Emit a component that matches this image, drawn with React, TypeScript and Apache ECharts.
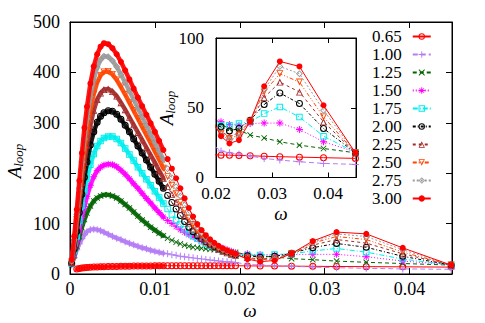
import React, { useEffect, useRef } from "react";
import * as echarts from "echarts";

// angular frequency grid (dense sweep + sparse points)
const OMEGA = [
  0.0002, 0.0005, 0.0008, 0.0011, 0.0014, 0.0017, 0.002, 0.0024, 0.0028, 0.0032,
  0.0036, 0.004, 0.0045, 0.005, 0.0055, 0.006, 0.0065, 0.007, 0.0075, 0.008,
  0.0085, 0.009, 0.0095, 0.01, 0.0105, 0.011, 0.0115, 0.012, 0.0125, 0.013,
  0.0135, 0.014, 0.0145, 0.015, 0.0155, 0.016, 0.0165, 0.017, 0.0175, 0.018,
  0.0185, 0.019, 0.0195,
  0.0209, 0.0224, 0.0241, 0.0261, 0.0286, 0.0314, 0.0349, 0.0392, 0.0449,
];

const LABELS = ["0.65", "1.00", "1.25", "1.50", "1.75", "2.00", "2.25", "2.50", "2.75", "3.00"];

const A_065 = [
  null, null, 10, 11, 12, 12.5, 13, 13.5, 14, 14,
  14.5, 14.5, 15, 15, 15, 15.5, 15.5, 15.5, 16, 16,
  16, 16, 16, 16.5, 16.5, 16.5, 16.5, 16.5, 16.5, 16.5,
  16.5, 16.5, 16.5, 16.5, 16.5, 16.5, 16.5, 16.5, 16.5, 16.5,
  16.5, 16.5, 16.5,
  16, 16, 15.8, 15.6, 15.2, 14.9, 14.6, 14.2, 13.7,
];
const A_100 = [
  18, 33, 48, 60, 70, 78, 84, 88, 89, 88,
  86, 83, 79, 75, 71, 68, 64, 61, 58, 55,
  52, 50, 47, 45, 43, 41, 40, 38, 37, 35,
  34, 33, 32, 31, 30, 29, 28, 27, 26, 25,
  24.5, 24, 23,
  19, 17.7, 16.8, 15.4, 13.7, 12.5, 11.3, 10.1, 9.4,
];
const A_125 = [
  19, 36, 55, 74, 92, 108, 121, 135, 145, 151,
  155, 157, 157, 155, 151, 145, 138, 131, 123, 115,
  107, 100, 93, 87, 81, 76, 71, 67, 63, 60,
  57, 55, 53, 52, 51, 50, 49, 48, 47, 46,
  45, 44, 43,
  38, 35, 34, 30.4, 28.4, 25.6, 23.2, 20.8, 17.7,
];
const A_150 = [
  20, 40, 64, 88, 112, 134, 154, 176, 193, 205,
  212, 216, 218, 217, 213, 206, 198, 189, 179, 170,
  160, 150, 141, 131, 122, 113, 106, 100, 94, 88,
  83, 78, 74, 70, 66, 63, 60, 57, 54, 51,
  48, 45, 42,
  40, 38, 37.5, 38.7, 39, 39, 34.4, 25.6, 18.4,
];
const A_175 = [
  21, 45, 75, 106, 136, 164, 189, 217, 238, 254,
  264, 270, 273, 273, 268, 260, 249, 237, 225, 212,
  200, 188, 176, 164, 152, 140, 129, 118, 107, 98,
  89, 81, 75, 70, 65, 60, 56, 52, 49, 46,
  43, 41, 39,
  37.5, 37.5, 38.7, 39.9, 45.8, 50.6, 43.4, 29.6, 18,
];
const A_200 = [
  22, 50, 85, 122, 158, 192, 222, 256, 282, 301,
  313, 320, 324, 323, 317, 307, 295, 282, 268, 254,
  240, 226, 212, 198, 184, 170, 156, 142, 129, 116,
  104, 93, 84, 76, 70, 64, 59, 55, 51, 47,
  44, 41, 38,
  36.3, 33.4, 35.1, 41, 52.3, 60.6, 53, 35.1, 17.7,
];
const A_225 = [
  23, 56, 97, 140, 182, 221, 256, 295, 325, 346,
  359, 366, 367, 362, 353, 340, 326, 311, 296, 281,
  266, 251, 236, 221, 205, 190, 174, 158, 143, 128,
  114, 101, 89, 79, 71, 64, 58, 53, 49, 45,
  42, 39, 37,
  32.7, 29.6, 32, 40.4, 57.3, 68.4, 61.3, 39.9, 17.7,
];
const A_250 = [
  24, 62, 108, 155, 202, 245, 283, 325, 357, 380,
  394, 401, 402, 396, 385, 371, 356, 340, 324, 308,
  292, 276, 260, 243, 227, 210, 193, 176, 159, 142,
  126, 111, 98, 86, 76, 68, 61, 55, 50, 46,
  43, 40, 37,
  31.6, 28, 30.4, 40.4, 61.3, 74.4, 68.4, 43.4, 17.7,
];
const A_275 = [
  26, 68, 118, 170, 222, 268, 308, 352, 386, 410,
  425, 432, 431, 423, 411, 396, 380, 363, 346, 329,
  312, 295, 278, 261, 244, 227, 209, 191, 173, 155,
  137, 121, 106, 93, 82, 73, 65, 59, 54, 49,
  45, 42, 39,
  31, 26.8, 29.2, 40.4, 63, 79.6, 74.4, 48.2, 17.7,
];
const A_300 = [
  28, 75, 128, 185, 240, 290, 332, 378, 412, 436,
  451, 458, 456, 448, 436, 421, 404, 386, 368, 350,
  333, 316, 299, 282, 264, 246, 228, 209, 190, 170,
  150, 131, 114, 99, 87, 77, 69, 62, 56, 51,
  47, 43, 40,
  29.6, 24.4, 26.8, 40.4, 65.4, 83.2, 79.6, 51.8, 17.7,
];

const SERIES_VALUES = [A_065, A_100, A_125, A_150, A_175, A_200, A_225, A_250, A_275, A_300];

// marker shapes (filled outlines so that hollow markers stay hollow)
const RING_CIRCLE = "path://M5 0A5 5 0 1 1 5 10A5 5 0 1 1 5 0ZM5 1.5A3.5 3.5 0 1 0 5 8.5A3.5 3.5 0 1 0 5 1.5Z";
const PLUS = "path://M0 4.3H10V5.7H0ZM4.3 0H5.7V10H4.3Z";
const CROSS = "path://M0 1L1 0L10 9L9 10ZM9 0L10 1L1 10L0 9Z";
const STAR = "path://M0 4.3H10V5.7H0ZM4.3 0H5.7V10H4.3ZM1 1.7L1.7 1L9 8.3L8.3 9ZM8.3 1L9 1.7L1.7 9L1 8.3Z";
const RING_SQUARE = "path://M0 0H10V10H0ZM1.5 1.5V8.5H8.5V1.5Z";
const RING_TRI_UP = "path://M5 0L10 9L0 9ZM5 2.9L1.9 7.9L8.1 7.9Z";
const RING_TRI_DOWN = "path://M0 0L10 0L5 9ZM1.9 1.1L5 6.1L8.1 1.1Z";
const RING_DIAMOND = "path://M5 0L10 5L5 10L0 5ZM5 1.8L1.8 5L5 8.2L8.2 5Z";

const STYLES: any[] = [
  { color: "#ff0000", symbol: RING_CIRCLE, size: 7, dash: "solid" },
  { color: "#b57cf5", symbol: PLUS, size: 7, dash: [5, 3] },
  { color: "#006400", symbol: CROSS, size: 6, dash: [4, 3] },
  { color: "#ff00ff", symbol: STAR, size: 7, dash: [1, 2] },
  { color: "#00eeee", symbol: RING_SQUARE, size: 6.5, dash: [5, 2, 1, 2] },
  { color: "#000000", symbol: RING_CIRCLE, size: 7, dash: [3, 2, 1, 2] },
  { color: "#a52a2a", symbol: RING_TRI_UP, size: 7, dash: [3, 3] },
  { color: "#ff4500", symbol: RING_TRI_DOWN, size: 7, dash: [4, 2, 1, 2, 1, 2] },
  { color: "#999999", symbol: RING_DIAMOND, size: 7, dash: [2, 2] },
  { color: "#ff0000", symbol: "circle", size: 6, dash: "solid" },
];

// the dense sweep (index < BAND_END) is drawn as a packed band of markers
const BAND_END = 26;

const FONT = "'Liberation Serif', 'Times New Roman', serif";

export default function App() {
  const ref = useRef<HTMLDivElement>(null);
  useEffect(() => {
    if (!ref.current) return;
    const chart = echarts.init(ref.current, undefined, { renderer: "svg" });
    const labelStyle = { fontFamily: FONT, fontSize: 18, color: "#000" };
    const tick = (len: number) => ({ show: true, inside: true, length: len, lineStyle: { color: "#000", width: 1 } });
    const line = { show: true, onZero: false, lineStyle: { color: "#000", width: 1 } };
    const fmtX = (v: number) => (Math.abs(v) < 1e-12 ? "0" : v.toFixed(2));
    const pts = (vals: (number | null)[], from: number, to: number) =>
      OMEGA.slice(from, to).map((w, k) => [w, vals[from + k] == null ? "-" : vals[from + k]]);

    const series: any[] = [];
    [0, 2].forEach((axis) => {
      SERIES_VALUES.forEach((vals, i) => {
        const st = STYLES[i];
        const zBase = (axis === 0 ? 10 : 40) + 2 * i;
        if (axis === 0) {
          series.push({
            type: "line",
            name: "band " + LABELS[i],
            xAxisIndex: 0,
            yAxisIndex: 0,
            data: pts(vals, 0, BAND_END),
            symbol: "none",
            clip: true,
            z: zBase,
            lineStyle: { color: st.color, width: 4.5, type: "solid", cap: "round", join: "round", opacity: 0.9 },
            emphasis: { disabled: true },
            silent: true,
          });
        }
        series.push({
          type: "line",
          name: LABELS[i],
          xAxisIndex: axis,
          yAxisIndex: axis,
          data: pts(vals, 0, OMEGA.length),
          symbol: st.symbol,
          symbolSize: st.size,
          showSymbol: true,
          showAllSymbol: true,
          clip: true,
          z: zBase + 1,
          connectNulls: false,
          lineStyle: { color: st.color, width: 1, type: st.dash },
          itemStyle: { color: st.color },
          emphasis: { disabled: true },
          silent: true,
        });
      });
    });

    const ylabel = (x: number, y: number) => ({
      type: "text", x, y, rotation: Math.PI / 2,
      style: {
        text: "{a|A}{b|loop}", align: "center", verticalAlign: "middle", fill: "#000",
        rich: {
          a: { fontFamily: FONT, fontSize: 19, fontStyle: "italic", fill: "#000" },
          b: { fontFamily: FONT, fontSize: 13, fontStyle: "italic", fill: "#000", padding: [9, 0, 0, 0] },
        },
      },
    });
    const wlabel = (x: number, y: number) => ({
      type: "text", x, y,
      style: { text: "ω", fontFamily: FONT, fontSize: 19, fontStyle: "italic", fill: "#000", align: "center", verticalAlign: "middle" },
    });

    chart.setOption({
      animation: false,
      backgroundColor: "#fff",
      textStyle: { fontFamily: FONT },
      grid: [
        { left: 70, right: 33, top: 22, bottom: 49, show: true, borderColor: "#000", borderWidth: 1, backgroundColor: "transparent" },
        { left: 216, width: 140, top: 38, height: 139.5, show: true, borderColor: "#000", borderWidth: 1, backgroundColor: "#fff" },
      ],
      xAxis: [
        { gridIndex: 0, type: "value", min: 0, max: 0.045, interval: 0.01, position: "bottom", axisLine: line, axisTick: tick(6), splitLine: { show: false }, axisLabel: { ...labelStyle, margin: 6, formatter: fmtX, showMaxLabel: false } },
        { gridIndex: 0, type: "value", min: 0, max: 0.045, interval: 0.01, position: "top", axisLine: line, axisTick: tick(6), splitLine: { show: false }, axisLabel: { show: false } },
        { gridIndex: 1, type: "value", min: 0.02, max: 0.045, interval: 0.01, position: "bottom", axisLine: line, axisTick: tick(5), splitLine: { show: false }, axisLabel: { ...labelStyle, fontSize: 17, margin: 7, formatter: fmtX, showMaxLabel: false } },
        { gridIndex: 1, type: "value", min: 0.02, max: 0.045, interval: 0.01, position: "top", axisLine: line, axisTick: tick(5), splitLine: { show: false }, axisLabel: { show: false } },
      ],
      yAxis: [
        { gridIndex: 0, type: "value", min: 0, max: 500, interval: 100, position: "left", axisLine: line, axisTick: tick(6), splitLine: { show: false }, axisLabel: { ...labelStyle, margin: 10 } },
        { gridIndex: 0, type: "value", min: 0, max: 500, interval: 100, position: "right", axisLine: line, axisTick: tick(6), splitLine: { show: false }, axisLabel: { show: false } },
        { gridIndex: 1, type: "value", min: 0, max: 100, interval: 50, position: "left", axisLine: line, axisTick: tick(5), splitLine: { show: false }, axisLabel: { ...labelStyle, fontSize: 17, margin: 12 } },
        { gridIndex: 1, type: "value", min: 0, max: 100, interval: 50, position: "right", axisLine: line, axisTick: tick(5), splitLine: { show: false }, axisLabel: { show: false } },
      ],
      legend: {
        data: LABELS,
        orient: "vertical",
        left: 372,
        top: 28,
        padding: 0,
        align: "right",
        itemWidth: 18,
        itemHeight: 8,
        itemGap: 1,
        selectedMode: false,
        textStyle: { fontFamily: FONT, fontSize: 17, color: "#000", padding: [0, 6, 0, 0] },
      },
      graphic: [ylabel(14, 161), ylabel(166, 108), wlabel(250, 310), wlabel(281, 213)],
      series,
    });
    return () => chart.dispose();
  }, []);
  return <div ref={ref} style={{ position: "absolute", left: 0, top: 0, width: 485, height: 323 }} />;
}
